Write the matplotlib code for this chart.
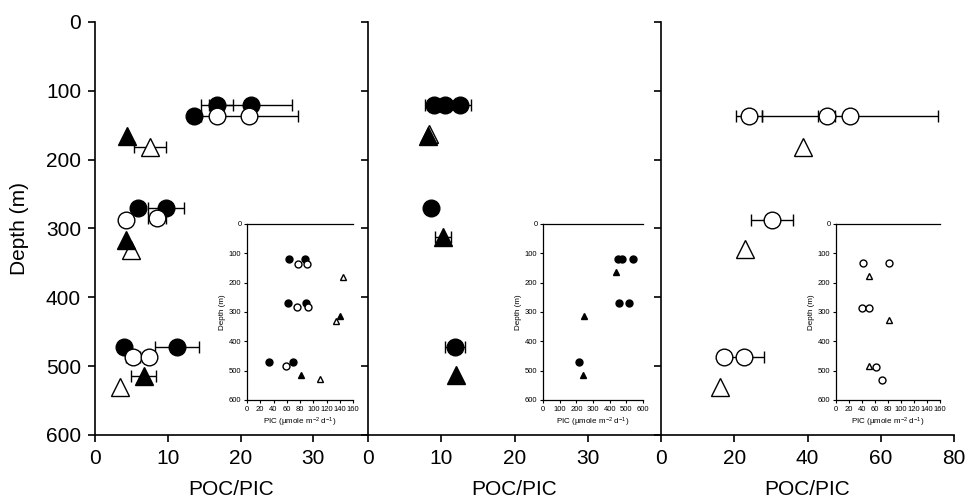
import numpy as np
import matplotlib
matplotlib.use("Agg")
import matplotlib.pyplot as plt

plt.rcParams['font.family'] = ['Liberation Sans', 'DejaVu Sans']
plt.rcParams['mathtext.default'] = 'regular'

# ---- main panels: POC/PIC vs depth ----
# panel 1
p1_fc_x = [13.6, 16.7, 21.4, 5.9, 9.75, 4.0, 11.3]
p1_fc_d = [137, 120, 120, 270, 270, 472, 472]
p1_fc_e = [0, 2.2, 5.7, 0, 2.5, 0, 3.0]
p1_oc_x = [16.7, 21.2, 4.3, 8.5, 5.2, 7.4]
p1_oc_d = [137, 137, 287, 285, 487, 487]
p1_oc_e = [0, 6.7, 0, 1.2, 1.0, 0]
p1_ft_x = [4.4, 4.3, 6.7]
p1_ft_d = [165, 317, 514]
p1_ft_e = [0, 0, 1.7]
p1_ot_x = [7.5, 5.0, 3.4]
p1_ot_d = [181, 331, 530]
p1_ot_e = [2.2, 0, 0]

# panel 2
p2_fc_x = [9.0, 10.5, 12.5, 8.6, 11.9]
p2_fc_d = [120, 120, 120, 270, 472]
p2_fc_e = [1.2, 0, 1.5, 0, 1.4]
p2_ft_x = [8.2, 10.2, 12.0]
p2_ft_d = [165, 312, 513]
p2_ft_e = [0, 1.1, 0]
p2_ot_x = [8.3]
p2_ot_d = [163]
p2_ot_e = [0]

# panel 3
p3_oc_x = [24.0, 45.3, 51.7, 30.3, 17.1, 22.6]
p3_oc_d = [137, 137, 137, 288, 487, 487]
p3_oc_e = [3.5, 2.3, 24.0, 5.7, 0, 5.5]
p3_ot_x = [38.7, 22.8, 16.2]
p3_ot_d = [181, 330, 530]

# ---- insets: PIC vs depth ----
i1_fc_x = [63, 88, 62, 89, 33, 69]
i1_fc_d = [120, 120, 270, 270, 470, 470]
i1_oc_x = [77, 91, 75, 92, 59]
i1_oc_d = [136, 136, 284, 284, 485]
i1_ft_x = [141, 82]
i1_ft_d = [314, 515]
i1_ot_x = [145, 134, 110]
i1_ot_d = [180, 330, 530]

i2_fc_x = [450, 475, 540, 456, 513, 216]
i2_fc_d = [120, 120, 120, 270, 270, 470]
i2_ft_x = [440, 247, 237]
i2_ft_d = [165, 314, 515]

i3_oc_x = [41, 81.5, 40.5, 51, 61.5, 71]
i3_oc_d = [134, 134, 288, 288, 486, 531]
i3_ot_x = [51, 81.5, 51]
i3_ot_d = [177, 327, 483]

W, H = 968, 501
fig = plt.figure(figsize=(W / 100, H / 100), dpi=100)


def px_axes(x0, x1, y0, y1):
    # rectangle given in pixel coords (top-left origin)
    return fig.add_axes([x0 / W, 1 - y1 / H, (x1 - x0) / W, (y1 - y0) / H])


def pts(ax, x, d, style, ms, err=None, open_=False):
    if err is not None:
        ax.errorbar(x, d, xerr=err, fmt='none', ecolor='k', elinewidth=1,
                    capsize=4.5, capthick=1, zorder=2)
    ax.plot(x, d, style, ms=ms, mfc='white' if open_ else 'k', mec='k',
            mew=1, ls='none', zorder=3, clip_on=False)


def main_style(ax, xmax, xticks, ylabels):
    ax.set_xlim(0, xmax)
    ax.set_ylim(600, 0)
    ax.set_xticks(xticks)
    ax.set_yticks(range(0, 601, 100))
    for s in ['top', 'right']:
        ax.spines[s].set_visible(False)
    for s in ['left', 'bottom']:
        ax.spines[s].set_linewidth(1.2)
    ax.tick_params(direction='out', length=5, width=1.2, labelsize=15, pad=5)
    if not ylabels:
        ax.tick_params(axis='y', labelleft=False)
    ax.set_xlabel('POC/PIC', fontsize=15, labelpad=9)
    ax.patch.set_alpha(0)


def inset_style(ax, xmax, xstep):
    ax.set_xlim(0, xmax)
    ax.set_ylim(600, 0)
    ax.set_xticks(np.arange(0, xmax + 1, xstep))
    ax.set_yticks(range(0, 601, 100))
    ax.spines['right'].set_visible(False)
    for s in ['left', 'bottom', 'top']:
        ax.spines[s].set_linewidth(0.9)
    ax.tick_params(direction='out', length=2.5, width=0.8, labelsize=5.5, pad=1.5)
    ax.tick_params(axis='x', top=False)
    ax.set_xlabel('PIC (\u00b5mole m$^{-2}$ d$^{-1}$)', fontsize=5.8, labelpad=2)
    ax.set_ylabel('Depth (m)', fontsize=5.8, labelpad=2)


ms = 12
tms = 13
ax1 = px_axes(95, 368, 22, 435)
ax2 = px_axes(368, 661, 22, 435)
ax3 = px_axes(661, 954, 22, 435)

pts(ax1, p1_fc_x, p1_fc_d, 'o', ms, p1_fc_e)
pts(ax1, p1_oc_x, p1_oc_d, 'o', ms, p1_oc_e, open_=True)
pts(ax1, p1_ot_x, p1_ot_d, '^', tms, p1_ot_e, open_=True)
pts(ax1, p1_ft_x, p1_ft_d, '^', tms, p1_ft_e)
main_style(ax1, 37.5, [0, 10, 20, 30], True)
ax1.set_ylabel('Depth (m)', fontsize=15, labelpad=12)

pts(ax2, p2_fc_x, p2_fc_d, 'o', ms, p2_fc_e)
pts(ax2, p2_ot_x, p2_ot_d, '^', tms, p2_ot_e, open_=True)
pts(ax2, p2_ft_x, p2_ft_d, '^', tms, p2_ft_e)
main_style(ax2, 40, [0, 10, 20, 30], False)

pts(ax3, p3_oc_x, p3_oc_d, 'o', ms, p3_oc_e, open_=True)
pts(ax3, p3_ot_x, p3_ot_d, '^', tms, None, open_=True)
main_style(ax3, 80, [0, 20, 40, 60, 80], False)

ims = 5
in1 = px_axes(247, 353, 224, 400)
pts(in1, i1_fc_x, i1_fc_d, 'o', ims)
pts(in1, i1_oc_x, i1_oc_d, 'o', ims, open_=True)
pts(in1, i1_ft_x, i1_ft_d, '^', ims)
pts(in1, i1_ot_x, i1_ot_d, '^', ims, open_=True)
inset_style(in1, 160, 20)

in2 = px_axes(543, 643, 224, 400)
pts(in2, i2_fc_x, i2_fc_d, 'o', ims)
pts(in2, i2_ft_x, i2_ft_d, '^', ims)
inset_style(in2, 600, 100)

in3 = px_axes(836, 940, 224, 400)
pts(in3, i3_oc_x, i3_oc_d, 'o', ims, open_=True)
pts(in3, i3_ot_x, i3_ot_d, '^', ims, open_=True)
inset_style(in3, 160, 20)

fig.savefig('out.png', dpi=100)
